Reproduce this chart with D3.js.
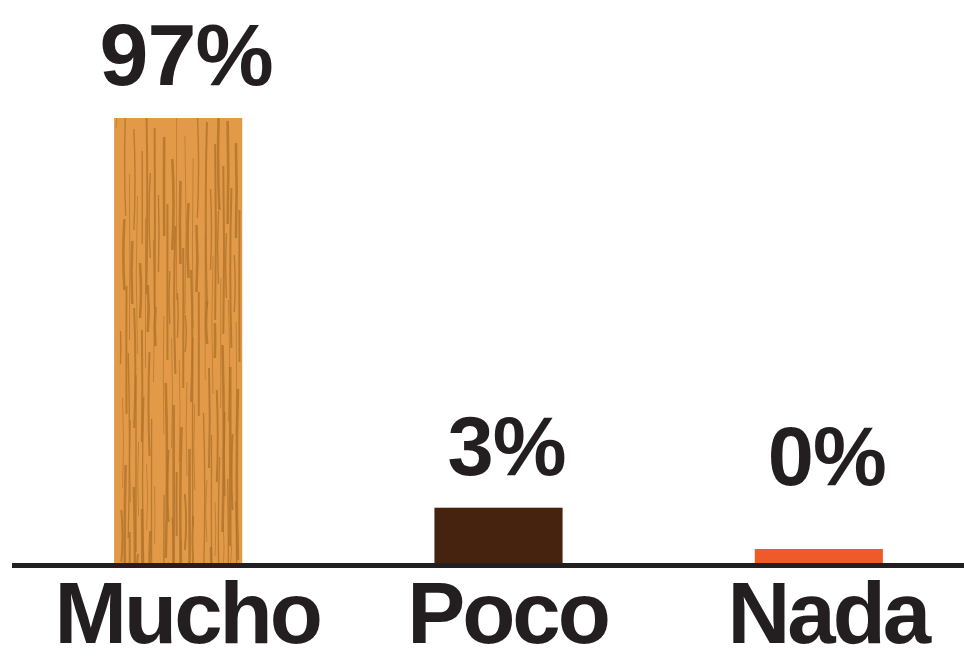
<!DOCTYPE html>
<html>
<head>
<meta charset="utf-8">
<script src="https://cdn.jsdelivr.net/npm/d3@7"></script>
<style>
  body { margin: 0; background: #fff; }
  svg { display: block; }
  text { font-family: "Liberation Sans", Arial, Helvetica, sans-serif; font-weight: bold; fill: #231f20; }
</style>
</head>
<body>
<svg id="chart"></svg>
<script>
// data
var categories = ["Mucho", "Poco", "Nada"];
var values = [97, 3, 0];
var valueLabels = ["97%", "3%", "0%"];
var barColors = ["url(#wood)", "#45230f", "#ee5a28"];

var width = 964,
    height = 662;
var baseY = 563;       // top of the axis line
var minBar = 14;       // zero values still get a thin strip
var labelGap = 33;

var svg = d3.select('#chart')
            .attr('width', width)
            .attr('height', height);

// wood grain pattern for the big bar (tall enough not to repeat)
var defs = svg.append('defs');
var wood = defs.append('pattern')
    .attr('id', 'wood')
    .attr('patternUnits', 'userSpaceOnUse')
    .attr('x', 114)
    .attr('y', 118)
    .attr('width', 128)
    .attr('height', 450);
wood.append('rect')
    .attr('width', 128).attr('height', 450)
    .attr('fill', '#e29a48');
// grain strokes, deterministic so the texture is the same each time
var grain = d3.range(110).map(function(i){
  var x = 2 + (i * 41) % 124 + Math.sin(i * 1.3) * 1.5;
  var y0 = ((i * 97) % 470) - 20;
  var len = 30 + (i * 47) % 160;
  return {x: x, y0: y0, len: len, w: 0.8 + (i % 4) * 0.6};
});
wood.selectAll('path')
    .data(grain)
    .enter()
    .append('path')
      .attr('d', d => 'M' + d.x + ',' + d.y0 + ' q' + (Math.sin(d.x) * 2.5) + ',' + d.len / 2 + ' 0,' + d.len)
      .attr('stroke', '#b0722a')
      .attr('stroke-opacity', 0.8)
      .attr('stroke-width', d => d.w)
      .attr('fill', 'none');

var x = d3.scaleBand()
          .domain(categories)
          .range([10, 987])
          .paddingInner(0.6)
          .paddingOuter(0.325);

var h = d3.scalePow()
          .exponent(0.6)
          .domain([0, 97])
          .range([0, 445]);

var data = categories.map((c, i) => ({cat: c, value: values[i], label: valueLabels[i], color: barColors[i]}));

function barTop(d){
  return baseY - Math.max(h(d.value), minBar);
}

svg.append('g')
   .classed('bars', true)
   .selectAll('rect')
   .data(data)
   .enter()
   .append('rect')
     .attr('x', d => x(d.cat))
     .attr('width', x.bandwidth())
     .attr('y', d => barTop(d))
     .attr('height', d => baseY - barTop(d))
     .attr('fill', d => d.color);

// percent labels above the bars
svg.append('g')
   .selectAll('text')
   .data(data)
   .enter()
   .append('text')
     .attr('x', d => x(d.cat) + x.bandwidth() / 2 + 8)
     .attr('y', d => Math.min(barTop(d), baseY - 45) - labelGap)
     .attr('text-anchor', 'middle')
     .attr('font-size', d => d.value > 50 ? 88 : 83)
     .attr('letter-spacing', -1)
     .text(d => d.label);

// axis line
svg.append('line')
   .attr('x1', 12).attr('x2', width)
   .attr('y1', baseY + 2.5).attr('y2', baseY + 2.5)
   .attr('stroke', '#231f20')
   .attr('stroke-width', 5);

// category labels
svg.append('g')
   .selectAll('text')
   .data(data)
   .enter()
   .append('text')
     .attr('x', d => x(d.cat) + x.bandwidth() / 2 + 9)
     .attr('y', 643)
     .attr('text-anchor', 'middle')
     .attr('font-size', 87)
     .attr('letter-spacing', -3)
     .text(d => d.cat);
</script>
</body>
</html>
